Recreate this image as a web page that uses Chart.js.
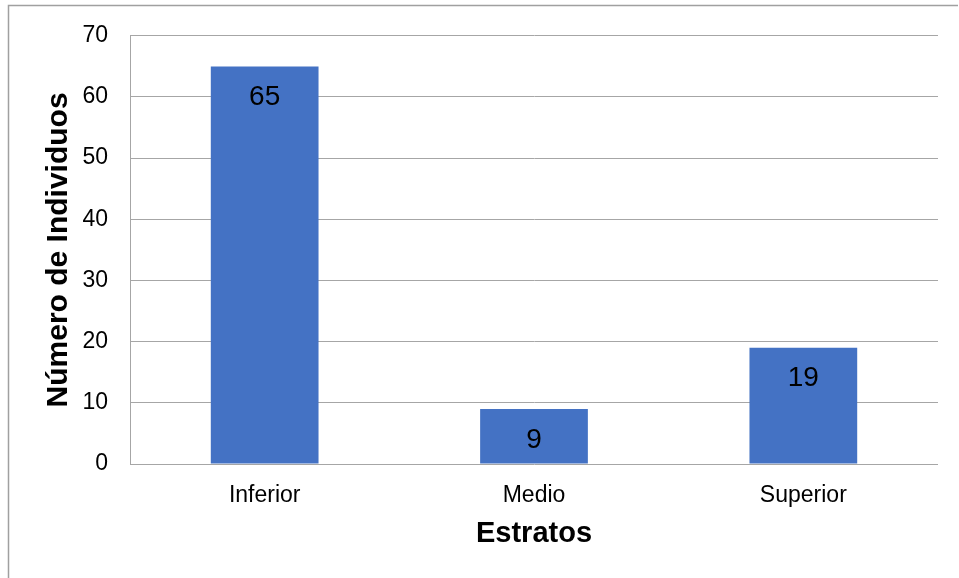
<!DOCTYPE html>
<html>
<head>
<meta charset="utf-8">
<script src="https://cdn.jsdelivr.net/npm/chart.js@4"></script>
<style>
  html, body { margin: 0; padding: 0; background: #fff; }
  #wrap { width: 959px; height: 578px; position: relative; }
</style>
</head>
<body>
<div id="wrap"><canvas id="chart" width="959" height="578"></canvas></div>
<script>
const categories = ["Inferior", "Medio", "Superior"];
const individuos = [65, 9, 19];
const yTicks = [0, 10, 20, 30, 40, 50, 60, 70];

const gridGray = "#a6a6a6";
const font = "'Liberation Sans', Arial, sans-serif";

// value labels inside the top of each bar
const barLabels = {
  id: "barLabels",
  afterDatasetsDraw(chart) {
    const ctx = chart.ctx;
    const meta = chart.getDatasetMeta(0);
    ctx.save();
    ctx.font = "28px " + font;
    ctx.fillStyle = "#000";
    ctx.textAlign = "center";
    ctx.textBaseline = "middle";
    meta.data.forEach((bar, i) => {
      ctx.fillText(String(individuos[i]), bar.x, bar.y + 31);
    });
    ctx.restore();
  }
};

// outer frame of the chart object
const frame = {
  id: "frame",
  beforeDraw(chart) {
    const ctx = chart.ctx;
    ctx.save();
    ctx.strokeStyle = "#a0a0a0";
    ctx.lineWidth = 1.5;
    ctx.beginPath();
    ctx.moveTo(8.5, 578);
    ctx.lineTo(8.5, 5.5);
    ctx.lineTo(958, 5.5);
    ctx.stroke();
    ctx.restore();
  }
};

new Chart(document.getElementById("chart"), {
  type: "bar",
  data: {
    labels: categories,
    datasets: [{
      label: "Número de Individuos",
      data: individuos,
      backgroundColor: "#4472C4",
      borderWidth: 0,
      barPercentage: 0.4,
      categoryPercentage: 1
    }]
  },
  options: {
    responsive: false,
    animation: false,
    layout: { padding: { top: 34, right: 21, left: 0, bottom: 0 } },
    plugins: {
      legend: { display: false },
      tooltip: { enabled: false }
    },
    scales: {
      x: {
        grid: { display: false, drawTicks: false },
        border: { display: false },
        ticks: { color: "#000", font: { family: font, size: 23 }, padding: 18 },
        title: {
          display: true,
          text: "Estratos",
          color: "#000",
          font: { family: font, size: 29, weight: "bold" },
          padding: { top: 0, bottom: 27 }
        },
        afterFit(scale) { scale.height = 114; }
      },
      y: {
        min: 0,
        max: 70,
        afterBuildTicks(scale) { scale.ticks = yTicks.map(v => ({ value: v })); },
        grid: { color: gridGray, lineWidth: 1, drawTicks: false },
        border: { display: true, color: gridGray, width: 1 },
        ticks: { color: "#000", font: { family: font, size: 23 }, padding: 22 },
        title: {
          display: true,
          text: "Número de Individuos",
          color: "#000",
          font: { family: font, size: 30, weight: "bold" },
          padding: { top: 41, bottom: 0 }
        },
        afterFit(scale) { scale.width = 130; }
      }
    }
  },
  plugins: [frame, barLabels]
});
</script>
</body>
</html>
